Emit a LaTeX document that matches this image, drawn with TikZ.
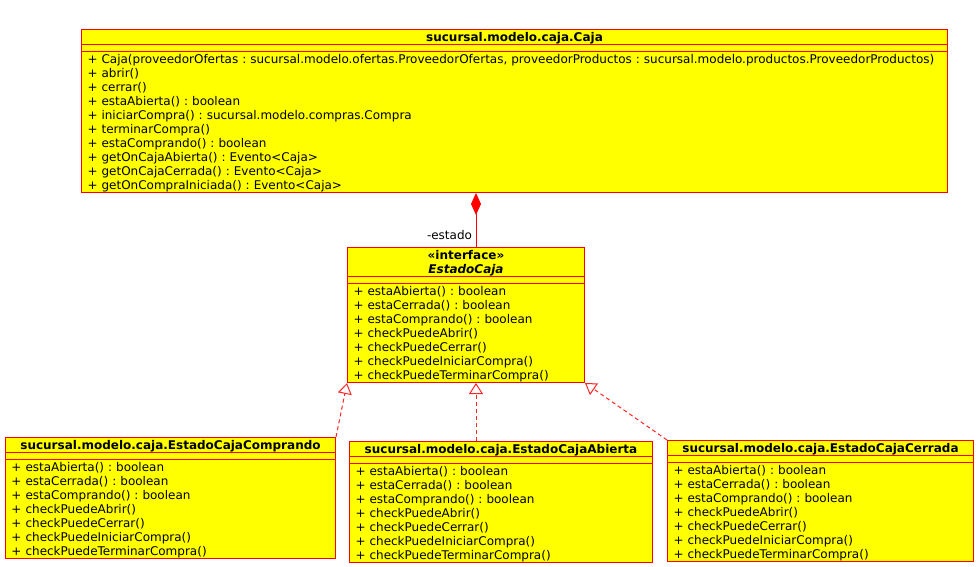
\documentclass[tikz,border=0pt]{standalone}
\usepackage{fontspec}
\setmainfont{DejaVu Sans}
\usetikzlibrary{shapes.multipart,arrows.meta}
\setlength{\parindent}{0pt}
\frenchspacing

\definecolor{amarillo}{RGB}{255,255,0}
\definecolor{rojo}{RGB}{255,0,0}

\newcommand{\lineaini}{\rule{0pt}{11.3pt}}
\newcommand{\lineafin}{\rule[-2.7pt]{0pt}{2.7pt}}
\newcommand{\titulo}[1]{{\centering\bfseries\lineaini#1\lineafin\par}}

\begin{document}
\begin{tikzpicture}[x=1pt,y=1pt,
        clase/.style={rectangle split, rectangle split parts=3, draw=rojo,
            fill=amarillo, line width=1pt, inner xsep=6pt, inner ysep=0pt, align=left,
            anchor=north west, font=\fontsize{12}{14}\selectfont},
        etiqueta/.style={font=\fontsize{12}{14}\selectfont, inner sep=0pt},
        compone/.style={draw=rojo, line width=1pt, {Diamond[length=22pt,width=10pt,fill=rojo]}-},
        realiza/.style={draw=rojo!85, line width=1pt, dash pattern=on 4pt off 3pt,
            -{Triangle[open,length=11pt,width=14pt,fill=white]}}]
        \useasboundingbox (0,0) rectangle (978,-566);

        % caja
        \node[clase, text width=854pt] (caja) at (81,-29) {\titulo{sucursal.modelo.caja.Caja}
            \nodepart{two}\rule{0pt}{6pt}
            \nodepart{three}\lineaini\mbox{+ Caja(proveedorOfertas : sucursal.modelo.ofertas.ProveedorOfertas, proveedorProductos : sucursal.modelo.productos.ProveedorProductos)}\\
            + abrir()\\
            + cerrar()\\
            + estaAbierta() : boolean\\
            + iniciarCompra() : sucursal.modelo.compras.Compra\\
            + terminarCompra()\\
            + estaComprando() : boolean\\
            + getOnCajaAbierta() : Evento<Caja>\\
            + getOnCajaCerrada() : Evento<Caja>\\
            + getOnCompraIniciada() : Evento<Caja>\lineafin};

        % interface
        \node[clase, text width=225pt] (estado) at (347,-247) {{\centering\bfseries\lineaini «interface»\\
            \textit{EstadoCaja}\lineafin\par}
            \nodepart{two}\rule{0pt}{6pt}
            \nodepart{three}\lineaini + estaAbierta() : boolean\\
            + estaCerrada() : boolean\\
            + estaComprando() : boolean\\
            + checkPuedeAbrir()\\
            + checkPuedeCerrar()\\
            + checkPuedeIniciarCompra()\\
            + checkPuedeTerminarCompra()\lineafin};

        % estados
        \node[clase, text width=318pt] (comprando) at (5,-437) {\titulo{sucursal.modelo.caja.EstadoCajaComprando}
            \nodepart{two}\rule{0pt}{6pt}
            \nodepart{three}\lineaini + estaAbierta() : boolean\\
            + estaCerrada() : boolean\\
            + estaComprando() : boolean\\
            + checkPuedeAbrir()\\
            + checkPuedeCerrar()\\
            + checkPuedeIniciarCompra()\\
            + checkPuedeTerminarCompra()\lineafin};
        \node[clase, text width=291pt] (abierta) at (349,-441) {\titulo{sucursal.modelo.caja.EstadoCajaAbierta}
            \nodepart{two}\rule{0pt}{6pt}
            \nodepart{three}\lineaini + estaAbierta() : boolean\\
            + estaCerrada() : boolean\\
            + estaComprando() : boolean\\
            + checkPuedeAbrir()\\
            + checkPuedeCerrar()\\
            + checkPuedeIniciarCompra()\\
            + checkPuedeTerminarCompra()\lineafin};
        \node[clase, text width=294pt] (cerrada) at (667,-440) {\titulo{sucursal.modelo.caja.EstadoCajaCerrada}
            \nodepart{two}\rule{0pt}{6pt}
            \nodepart{three}\lineaini + estaAbierta() : boolean\\
            + estaCerrada() : boolean\\
            + estaComprando() : boolean\\
            + checkPuedeAbrir()\\
            + checkPuedeCerrar()\\
            + checkPuedeIniciarCompra()\\
            + checkPuedeTerminarCompra()\lineafin};

        % composicion
        \draw[compone] ([xshift=-38.5pt]caja.south) -- ([xshift=10pt]estado.north)
            node[etiqueta, anchor=south east, xshift=-3.5pt, yshift=7pt] (rol) {-estado};

        % realizaciones
        \draw[realiza] (comprando.north east) -- (estado.south west);
        \draw[realiza] ([xshift=-25pt]abierta.north) -- ([xshift=10pt]estado.south);
        \draw[realiza] (cerrada.north west) -- (estado.south east);
    \end{tikzpicture}
\end{document}
